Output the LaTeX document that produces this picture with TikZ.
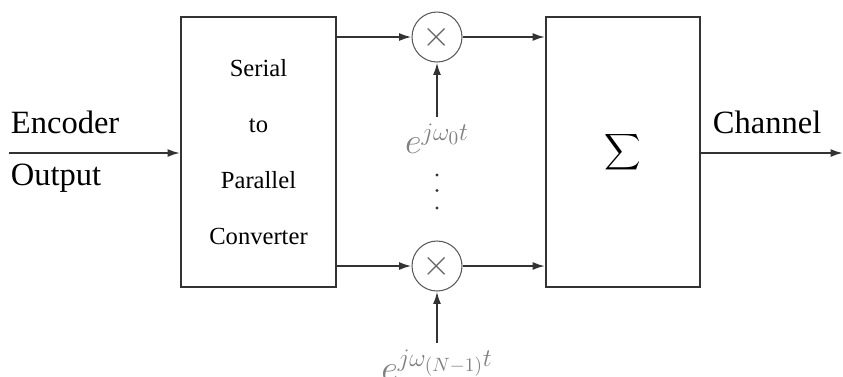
\documentclass[tikz,border=0pt]{standalone}
\usepackage{fontspec}
\usepackage{exscale}
\setmainfont{Liberation Serif}
\usetikzlibrary{arrows.meta}
\begin{document}
\begin{tikzpicture}[>={Latex[length=7pt,width=4.5pt]},line width=1.1pt,draw=black!80,
  blockbox/.style={draw=black!80,line width=1.1pt,minimum width=3.1cm,minimum height=5.4cm,align=center},
  mixer/.style={circle,draw=black!65,line width=0.6pt,minimum size=1cm,inner sep=0pt,text=black!60,font=\fontsize{20}{24}\selectfont},
  sigarrow/.style={->,draw=black!80,line width=1.1pt},
  iolabel/.style={anchor=base west,inner sep=0pt,font=\fontsize{18.5}{22}\selectfont},
  explabel/.style={text=black!50,font=\fontsize{21}{25}\selectfont}]
\useasboundingbox (0,0) rectangle (16.86,-7.52);
\node[blockbox,font=\fontsize{14}{32}\selectfont] (sp) at (5.17,-3.04) {Serial\\to\\Parallel\\Converter};
\node[blockbox,minimum width=3.08cm] (sum) at (12.46,-3.04) {\fontsize{15}{18}\selectfont$\displaystyle\sum$};
\node[mixer] (m1) at (8.74,-0.74) {$\times$};
\node[mixer] (m2) at (8.74,-5.32) {$\times$};
\node[explabel] (e0) at (8.74,-2.78) {$e^{j\omega_0 t}$};
\node[explabel] (e1) at (8.74,-7.30) {$e^{j\omega_{(N-1)} t}$};
\coordinate (in) at (0.18,-3.06);
\coordinate (out) at (16.86,-3.06);
\node[iolabel] (enc) at (0.2,-2.66) {Encoder};
\node[iolabel] (outp) at (0.2,-3.70) {Output};
\node[iolabel] (chan) at (14.24,-2.66) {Channel};
\draw[sigarrow] (in) -- (in -| sp.west);
\draw[sigarrow] (m1 -| sp.east) -- (m1);
\draw[sigarrow] (m2 -| sp.east) -- (m2);
\draw[sigarrow] (m1) -- (m1 -| sum.west);
\draw[sigarrow] (m2) -- (m2 -| sum.west);
\draw[sigarrow] (e0) -- (m1);
\draw[sigarrow] (e1) -- (m2);
\draw[sigarrow] (out -| sum.east) -- (out);
% vertical dots between the two mixers
\foreach \y in {-3.5,-3.81,-4.16}
  \fill[black!80] (8.74,\y) circle (0.9pt);
\end{tikzpicture}
\end{document}
